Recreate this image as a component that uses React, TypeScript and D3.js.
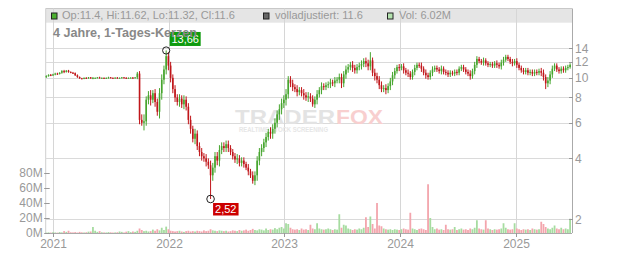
import React from "react";
import * as d3 from "d3";

// weekly candles starting 2020-12-11
const startDate = new Date(2020, 11, 11);
const closes: number[] = [
  10.2, 10.35, 10.3, 10.4, 10.5, 10.45, 10.6, 10.8, 10.7, 10.85, 10.7, 10.6, 10.55,
  10.3, 10.1, 9.95, 9.9,
  10.0, 9.95, 10.05, 9.95, 10.0, 10.0, 10.05, 10.0, 10.0, 9.95, 10.0, 10.05, 10.0, 9.98, 10.02, 10.0, 10.0, 10.05, 10.0, 9.98, 10.0, 10.02, 10.0, 10.05,
  10.5, 6.2, 6.0, 6.1, 7.8, 8.2, 7.8, 8.4, 7.6, 6.8,
  8.4, 9.8, 11.0, 12.8, 11.5, 10.0, 8.8, 8.0, 7.6, 7.9,
  7.4, 7.8, 7.2, 6.2, 5.6, 5.0, 5.3, 4.6, 4.3, 4.1,
  4.0, 3.85, 3.7, 3.3, 3.6, 4.1, 3.9, 4.4, 4.6, 4.5,
  4.7, 4.5, 4.3, 4.1, 3.95, 4.0, 3.8, 3.9, 3.75, 3.6,
  3.45, 3.3, 3.1, 3.3, 3.9, 4.3, 4.5, 4.8, 5.1, 5.4,
  5.3, 5.6, 6.0, 6.6, 7.0, 7.5, 7.8, 8.3, 9.8, 9.4,
  9.0, 8.8, 8.5, 8.7, 8.4, 8.2, 8.0, 8.1, 7.9, 7.4,
  7.8, 8.3, 8.7, 9.1, 9.0, 9.2, 9.3, 9.5, 9.4, 9.7,
  9.8, 10.1, 9.4, 10.4, 11.0, 11.3, 11.6, 11.2, 10.9, 11.3,
  11.5, 11.7, 12.1, 11.8, 11.4, 12.2, 10.6, 10.2, 9.8, 9.2,
  8.8, 8.9, 8.7, 9.1, 9.6, 10.3, 10.8, 11.3, 11.2, 11.4,
  10.9, 10.6, 10.5, 10.1, 10.7, 11.2, 11.6, 11.5, 11.1, 10.6,
  10.3, 10.1, 10.6, 11.0, 11.2, 11.0, 10.8, 11.1, 10.7, 10.6,
  10.4, 10.6, 10.5, 10.7, 10.6, 11.1, 11.3, 11.0, 10.7, 10.5,
  10.2, 10.8, 11.6, 12.4, 12.1, 11.9, 12.2, 11.8, 11.6, 11.7,
  11.5, 11.8, 11.6, 11.4, 11.9, 12.3, 12.7, 12.4, 12.0, 11.8,
  12.1, 11.6, 11.2, 10.9, 10.7, 10.9, 10.6, 10.7, 10.5, 10.7,
  10.6, 10.8, 10.6, 10.1, 9.4, 9.7, 10.4, 11.1, 11.5, 11.0,
  10.8, 11.1, 10.9, 11.2, 11.3, 11.6,
];
const firstOpen = 10.1;
// wick length (price units) beyond the candle body, per weekly candle
const wicks: number[] = [
  0.10, 0.06, 0.10, 0.08, 0.10, 0.10, 0.06, 0.12, 0.15, 0.08,
  0.10, 0.06, 0.10, 0.08, 0.10, 0.06, 0.05, 0.05, 0.08, 0.05,
  0.05, 0.10, 0.05, 0.05, 0.08, 0.05, 0.05, 0.05, 0.08, 0.05,
  0.05, 0.05, 0.08, 0.05, 0.05, 0.05, 0.08, 0.05, 0.05, 0.08,
  0.05, 0.20, 0.30, 0.40, 0.50, 0.30, 0.40, 0.50, 0.30, 0.40,
  0.30, 0.50, 0.60, 0.50, 0.60, 0.60, 0.50, 0.40, 0.40, 0.30,
  0.40, 0.30, 0.40, 0.30, 0.30, 0.30, 0.20, 0.30, 0.20, 0.20,
  0.20, 0.15, 0.20, 0.15, 0.20, 0.20, 0.20, 0.20, 0.25, 0.20,
  0.20, 0.20, 0.20, 0.15, 0.15, 0.15, 0.20, 0.15, 0.15, 0.15,
  0.10, 0.15, 0.10, 0.15, 0.15, 0.20, 0.20, 0.20, 0.20, 0.25,
  0.20, 0.30, 0.30, 0.30, 0.30, 0.40, 0.40, 0.40, 0.50, 0.40,
  0.40, 0.40, 0.30, 0.40, 0.30, 0.30, 0.40, 0.30, 0.40, 0.30,
  0.30, 0.30, 0.40, 0.30, 0.40, 0.30, 0.30, 0.30, 0.40, 0.30,
  0.40, 0.30, 0.40, 0.40, 0.40, 0.50, 0.40, 0.40, 0.50, 0.40,
  0.40, 0.40, 0.50, 0.40, 0.50, 0.50, 0.50, 0.40, 0.50, 0.40,
  0.40, 0.40, 0.30, 0.40, 0.30, 0.40, 0.40, 0.40, 0.30, 0.40,
  0.30, 0.40, 0.30, 0.40, 0.30, 0.30, 0.40, 0.30, 0.30, 0.40,
  0.30, 0.40, 0.30, 0.30, 0.40, 0.30, 0.30, 0.30, 0.40, 0.30,
  0.30, 0.30, 0.30, 0.25, 0.30, 0.30, 0.30, 0.30, 0.30, 0.30,
  0.30, 0.40, 0.30, 0.40, 0.40, 0.30, 0.30, 0.40, 0.30, 0.30,
  0.30, 0.30, 0.30, 0.40, 0.30, 0.40, 0.40, 0.30, 0.30, 0.30,
  0.40, 0.30, 0.40, 0.30, 0.30, 0.30, 0.30, 0.30, 0.30, 0.30,
  0.30, 0.30, 0.30, 0.40, 0.40, 0.30, 0.40, 0.40, 0.40, 0.30,
  0.30, 0.30, 0.30, 0.30, 0.30, 0.30, 0.20,
];
const highOverrides: [number, number][] = [
  [54, 13.66], [146, 13.4], [41, 10.7], [109, 10.2], [207, 13.0], [194, 12.8], [137, 12.0],
];
const lowOverrides: [number, number][] = [
  [74, 2.52], [93, 3.0], [43, 5.8], [225, 8.8], [133, 8.9], [50, 6.5], [120, 7.2], [151, 8.5],
];
const volumes: number[] = [
  0.5, 0.8, 0.6, 1.0, 0.7, 0.5, 1.2, 0.8, 2.5, 1.5, 3.0,
  1.0, 0.8, 1.2, 0.6, 1.5, 0.9, 0.7, 1.0, 1.8, 2.0,
  8.0, 3.0, 1.5, 2.5, 1.0, 0.8, 0.7, 1.2, 0.9, 0.6,
  0.8, 1.0, 2.0, 1.5, 0.7, 1.8, 2.5, 1.2, 2.0, 1.5,
  3.0, 6.0, 4.0, 2.5, 3.0, 2.0, 2.5, 4.5, 3.0, 5.0,
  3.5, 7.0, 4.0, 8.5, 5.0, 3.0, 2.5, 2.0, 2.5, 3.0,
  2.0, 1.5, 2.5, 3.0, 2.0, 2.5, 2.0, 3.0, 2.5, 2.0,
  3.5, 2.5, 3.0, 5.0, 3.5, 3.0, 2.5, 3.5, 3.0, 2.5,
  3.0, 2.0, 2.5, 3.5, 3.0, 2.5, 4.0, 3.0, 3.5, 4.5,
  3.0, 4.0, 5.5, 4.0, 3.5, 5.0, 4.5, 3.5, 6.0, 4.0,
  5.0, 4.5, 6.5, 5.0, 7.0, 8.0, 6.0, 13.0, 12.0, 7.0,
  5.0, 4.5, 5.0, 4.0, 6.0, 4.5, 5.0, 4.0, 11.0, 6.0,
  5.0, 13.0, 6.0, 5.0, 4.5, 5.0, 6.0, 5.0, 4.0, 5.0,
  4.5, 25.0, 7.0, 11.0, 10.0, 6.0, 5.0, 4.0, 5.0, 4.5,
  6.0, 5.0, 7.0, 21.0, 8.0, 22.0, 12.0, 6.0, 40.0, 10.0,
  9.0, 6.0, 5.0, 4.5, 5.0, 4.0, 5.0, 4.5, 4.0, 5.0,
  6.0, 5.0, 4.5, 27.0, 6.0, 5.0, 4.0, 5.5, 6.0, 5.0,
  4.0, 65.0, 20.0, 8.0, 5.0, 6.0, 4.5, 5.0, 4.0, 11.0,
  5.0, 4.5, 5.0, 8.0, 4.0, 5.0, 6.0, 4.5, 5.0, 4.0,
  6.0, 5.0, 7.0, 17.0, 6.0, 5.0, 4.5, 17.0, 6.0, 5.0,
  4.0, 5.0, 4.5, 5.0, 6.0, 13.0, 7.0, 5.0, 4.5, 5.0,
  13.0, 6.0, 5.0, 4.0, 5.0, 4.5, 5.0, 4.0, 6.0, 5.0,
  4.5, 5.0, 15.0, 12.0, 8.0, 6.0, 5.0, 7.0, 10.0, 6.0,
  5.0, 7.0, 5.0, 6.0, 5.0, 19.0,
];
const priceTicks = [2, 4, 6, 8, 10, 12, 14];
const volTicks = [0, 20, 40, 60, 80];
const yearTicks = [2021, 2022, 2023, 2024, 2025];
const legendOHLC = "Op:11.4, Hi:11.62, Lo:11.32, Cl:11.6";
const legendAdj = "volladjustiert: 11.6";
const legendVol = "Vol: 6.02M";
const title = "4 Jahre, 1-Tages-Kerzen";

const FONT = "'Liberation Sans', Arial, Helvetica, sans-serif";
const GREEN = "#46a52e";
const RED = "#c0161a";
const VGREEN = "#a6dca0";
const VRED = "#f3a5ad";

export default function App() {
  const L = 45.7, R = 572, TOP = 8.5, HB = 22.7, BOT = 233;
  const x = d3.scaleTime().domain([new Date(2020, 11, 9), new Date(2025, 5, 26)]).range([L, R]);
  const y = d3.scaleLog().domain([2, 14]).range([219.3, 48.3]);
  const v = d3.scaleLinear().domain([0, 80]).range([233, 173]);

  const hiMap = new Map(highOverrides);
  const loMap = new Map(lowOverrides);
  const candles = closes.map((c, i) => {
    const o = i === 0 ? firstOpen : closes[i - 1];
    const date = d3.timeDay.offset(startDate, 7 * i);
    const high = hiMap.get(i) ?? Math.max(o, c) + wicks[i];
    const low = loMap.get(i) ?? Math.min(o, c) - wicks[i];
    return { date, o, c, high, low, vol: volumes[i], up: c >= o };
  });

  const maxC = candles.reduce((a, b) => (b.high > a.high ? b : a));
  const minC = candles.reduce((a, b) => (b.low < a.low ? b : a));
  const fmt = (n: number) => n.toFixed(2).replace(".", ",");

  const hx = x(maxC.date), hy = y(maxC.high);
  const lx = x(minC.date), ly = y(minC.low);

  return (
    <svg width={632} height={253} style={{ position: "fixed", left: 0, top: 0, background: "#fff" }} fontFamily={FONT}>
      {/* header band */}
      <rect x={L} y={TOP} width={R - L} height={HB - TOP} fill="#e5e5e5" />
      <line x1={L} x2={R} y1={TOP} y2={TOP} stroke="#c8c8c8" />
      <line x1={L} x2={L} y1={TOP} y2={BOT} stroke="#cfcfcf" />
      {/* gridlines */}
      {priceTicks.map((t) => (
        <line key={"hg" + t} x1={L} x2={R} y1={Math.round(y(t)) + 0.5} y2={Math.round(y(t)) + 0.5} stroke="#dadada" />
      ))}
      {yearTicks.map((yr) => {
        const xx = Math.round(x(new Date(yr, 0, 1))) + 0.5;
        return <line key={"vg" + yr} x1={xx} x2={xx} y1={TOP} y2={BOT} stroke="#d6d6d6" />;
      })}
      {/* watermark */}
      <g>
        <text x={235} y={124} fontSize={21} fontWeight={900} fill="#e3e3e3" textLength={100} lengthAdjust="spacingAndGlyphs">TRADER</text>
        <text x={336} y={124} fontSize={21} fontWeight={900} fill="#f8cfcf" textLength={47} lengthAdjust="spacingAndGlyphs">FOX</text>
        <text x={239} y={131.5} fontSize={6.5} fontWeight={700} fill="#e6e6e6" textLength={89} lengthAdjust="spacingAndGlyphs">REALTIME STOCK SCREENING</text>
      </g>
      {/* volume */}
      {candles.map((d, i) => (
        <rect key={"v" + i} x={x(d.date) - 0.9} width={1.8} y={v(d.vol)} height={v(0) - v(d.vol)} fill={d.up ? VGREEN : VRED} />
      ))}
      {/* candles */}
      {candles.map((d, i) => {
        const xc = x(d.date);
        const top = y(Math.max(d.o, d.c));
        const bot = y(Math.min(d.o, d.c));
        const col = d.up ? GREEN : RED;
        return (
          <g key={"c" + i}>
            <line x1={xc} x2={xc} y1={y(d.high)} y2={y(d.low)} stroke={col} strokeWidth={1} />
            <rect x={xc - 0.8} width={1.6} y={top} height={Math.max(1, bot - top)} fill={col} />
          </g>
        );
      })}
      {/* axes */}
      <line x1={R + 0.5} x2={R + 0.5} y1={TOP} y2={BOT} stroke="#aaa" />
      <line x1={L} x2={R} y1={BOT + 0.5} y2={BOT + 0.5} stroke="#aaa" />
      {priceTicks.map((t) => (
        <g key={"pt" + t}>
          <line x1={R - 3} x2={R + 1} y1={Math.round(y(t)) + 0.5} y2={Math.round(y(t)) + 0.5} stroke="#999" />
          <text x={R + 3} y={y(t)} dy="0.35em" fontSize={12} fill="#999">{t}</text>
        </g>
      ))}
      {volTicks.map((t) => (
        <g key={"vt" + t}>
          <line x1={L - 1.5} x2={L + 4} y1={Math.round(v(t)) + 0.5} y2={Math.round(v(t)) + 0.5} stroke="#999" />
          <text x={42.7} y={v(t)} dy="0.35em" fontSize={12} fill="#999" textAnchor="end">{t}M</text>
        </g>
      ))}
      {yearTicks.map((yr) => {
        const xx = Math.round(x(new Date(yr, 0, 1))) + 0.5;
        return (
          <g key={"yt" + yr}>
            <line x1={xx} x2={xx} y1={BOT} y2={BOT + 4} stroke="#999" />
            <text x={xx} y={247.5} fontSize={12} fill="#999" textAnchor="middle">{yr}</text>
          </g>
        );
      })}
      {/* annotations */}
      <rect x={hx + 3.5} y={hy - 18.5} width={31} height={14} fill="#0e9a0e" />
      <text x={hx + 19} y={hy - 7.5} fontSize={11} fill="#fff" textAnchor="middle">{fmt(maxC.high)}</text>
      <circle cx={hx} cy={hy} r={3.6} fill="none" stroke="#222" strokeWidth={1} />
      <rect x={lx + 2.5} y={ly + 4} width={25.5} height={12.5} fill="#cc0000" />
      <text x={lx + 15.2} y={ly + 14.2} fontSize={11} fill="#fff" textAnchor="middle">{fmt(minC.low)}</text>
      <circle cx={lx} cy={ly} r={3.8} fill="none" stroke="#222" strokeWidth={1} />
      {/* title */}
      <text x={53} y={36.7} fontSize={12.6} fontWeight={700} fill="#888">{title}</text>
      {/* legend */}
      <rect x={51.5} y={13} width={5.5} height={6} fill="#4caf30" stroke="#222" />
      <text x={62} y={19} fontSize={11} fill="#999">{legendOHLC}</text>
      <rect x={263.5} y={13} width={5.5} height={6} fill="#666" stroke="#222" />
      <text x={275} y={19} fontSize={11} fill="#999">{legendAdj}</text>
      <rect x={387.5} y={13} width={5.5} height={6} fill="#b4e2ae" stroke="#222" />
      <text x={399} y={19} fontSize={11} fill="#999">{legendVol}</text>
    </svg>
  );
}
